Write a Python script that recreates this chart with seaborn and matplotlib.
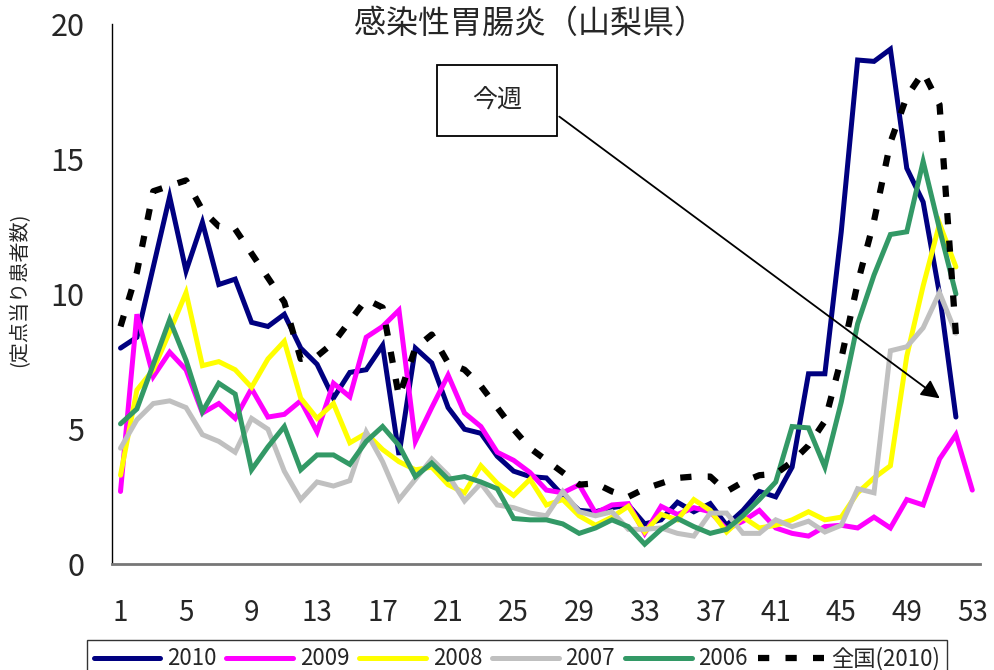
import numpy as np
import matplotlib
matplotlib.use("Agg")
import matplotlib.pyplot as plt
import matplotlib.patches as patches
import seaborn as sns

# Données (定点当り患者数, par semaine)
semaines = list(range(1, 54))
y2010 = [8.0, 8.4, 11.0, 13.6, 10.85, 12.65, 10.35, 10.55, 8.95, 8.8, 9.25, 8.0, 7.4,
         6.15, 7.1, 7.2, 8.1, 4.05, 8.0, 7.45, 5.8, 5.0, 4.85, 4.0, 3.45, 3.25,
         3.2, 2.55, 2.0, 1.95, 2.1, 2.2, 1.5, 1.65, 2.3, 1.95, 2.25, 1.45, 2.0,
         2.7, 2.5, 3.6, 7.05, 7.05, 12.3, 18.65, 18.6, 19.05, 14.65, 13.4, 10.0, 5.45]
y2009 = [2.7, 9.25, 6.95, 7.85, 7.2, 5.6, 5.95, 5.4, 6.5, 5.45, 5.55, 6.05, 4.9,
         6.7, 6.2, 8.4, 8.8, 9.4, 4.55, 5.8, 7.0, 5.6, 5.1, 4.15, 3.85, 3.4,
         2.75, 2.65, 2.95, 1.9, 2.2, 2.25, 1.15, 2.15, 1.85, 2.1, 1.95, 1.3, 1.6,
         2.0, 1.35, 1.15, 1.05, 1.4, 1.45, 1.35, 1.75, 1.35, 2.4, 2.2, 3.9, 4.8, 2.75]
y2008 = [3.3, 6.45, 7.2, 8.6, 10.05, 7.35, 7.5, 7.2, 6.55, 7.6, 8.25, 6.15, 5.4,
         5.95, 4.5, 4.85, 4.25, 3.8, 3.5, 3.6, 2.95, 2.65, 3.65, 3.0, 2.55, 3.15,
         2.2, 2.4, 1.8, 1.45, 1.75, 2.15, 1.2, 1.85, 1.65, 2.4, 2.0, 1.2, 1.75,
         1.35, 1.45, 1.65, 1.95, 1.65, 1.75, 2.65, 3.2, 3.65, 7.7, 10.3, 12.6, 11.0]
y2007 = [4.3, 5.35, 5.95, 6.05, 5.8, 4.8, 4.55, 4.15, 5.4, 5.0, 3.45, 2.4, 3.05,
         2.9, 3.1, 4.9, 3.8, 2.4, 3.15, 3.9, 3.3, 2.35, 3.0, 2.2, 2.1, 1.9,
         1.8, 2.7, 1.95, 1.8, 1.95, 1.3, 1.3, 1.35, 1.15, 1.05, 1.9, 1.9, 1.15,
         1.15, 1.65, 1.4, 1.6, 1.2, 1.45, 2.8, 2.65, 7.9, 8.05, 8.75, 10.05, 8.55]
y2006 = [5.2, 5.75, 7.4, 9.05, 7.55, 5.65, 6.7, 6.3, 3.5, 4.35, 5.1, 3.5, 4.05,
         4.05, 3.7, 4.55, 5.1, 4.4, 3.25, 3.75, 3.15, 3.25, 3.05, 2.8, 1.7, 1.65,
         1.65, 1.5, 1.15, 1.35, 1.65, 1.4, 0.75, 1.3, 1.7, 1.4, 1.15, 1.3, 1.8,
         2.4, 3.05, 5.1, 5.05, 3.6, 6.0, 8.9, 10.7, 12.2, 12.3, 14.9, 12.4, 10.0]
zenkoku = [8.8, 10.8, 13.8, 14.0, 14.2, 13.1, 12.5, 12.4, 11.5, 10.6, 9.7, 7.6, 7.7,
           8.2, 9.0, 9.8, 9.5, 6.2, 8.0, 8.5, 7.45, 7.2, 6.6, 5.8, 5.0, 4.3,
           3.85, 3.4, 2.95, 3.0, 2.7, 2.5, 2.8, 3.0, 3.2, 3.25, 3.25, 2.7, 3.05,
           3.3, 3.35, 3.8, 4.4, 5.3, 7.6, 10.4, 12.7, 15.6, 17.3, 18.2, 17.0, 8.5]

séries = [("2010", y2010, "#000080"), ("2009", y2009, "#FF00FF"), ("2008", y2008, "#FFFF00"),
          ("2007", y2007, "#C0C0C0"), ("2006", y2006, "#339966")]

sns.set_style("white")
plt.rcParams['font.family'] = ['Noto Sans CJK JP', 'DejaVu Sans']

fig = plt.figure(figsize=(9.94, 6.70), dpi=100)
ax = fig.add_axes([0.113, 0.1575, 0.8734, 0.8074])

for nom, valeurs, couleur in séries:
    sns.lineplot(x=semaines[:len(valeurs)], y=valeurs, color=couleur, lw=3.6,
                 label=nom, ax=ax, solid_joinstyle="miter")
sns.lineplot(x=semaines[:len(zenkoku)], y=zenkoku, color="black", lw=4.5,
             label="全国(2010)", ax=ax, dashes=False)
ax.lines[-1].set_dashes((1.8, 2.6))

ax.set_xlim(0.5, 53.5)
ax.set_ylim(0, 20)
ax.set_xticks([1, 5, 9, 13, 17, 21, 25, 29, 33, 37, 41, 45, 49, 53])
ax.set_xticks(np.arange(0.5, 54, 1), minor=True)
ax.set_yticks([0, 5, 10, 15, 20])
ax.tick_params(axis="x", which="major", length=0, pad=24, labelsize=20)
ax.tick_params(axis="x", which="minor", length=7, width=1, direction="in", color="black")
ax.tick_params(axis="y", which="major", length=8.5, width=1, direction="in",
               color="#555555", pad=20, labelsize=22)
for s in ["top", "right"]:
    ax.spines[s].set_visible(False)
ax.spines["left"].set_color("black")
ax.spines["left"].set_linewidth(1)
ax.spines["bottom"].set_color("#777777")
ax.spines["bottom"].set_linewidth(2)
ax.set_xlabel("")
ax.set_ylabel("")

fig.text(0.533, 0.964, "感染性胃腸炎（山梨県）", ha="center", va="center", fontsize=23)
fig.text(0.02, 0.567, "(定点当り患者数)", rotation=90, ha="center", va="center", fontsize=14.5)

# Boîte "今週" et flèche
ax.add_patch(patches.Rectangle((20.32, 15.84), 7.33, 2.63, facecolor="white",
                               edgecolor="black", lw=1.3, clip_on=False, zorder=5))
ax.text(23.99, 17.15, "今週", ha="center", va="center", fontsize=18, zorder=6)
ax.annotate("", xy=(51.15, 6.08), xytext=(27.65, 16.62),
            arrowprops=dict(arrowstyle="-|>", color="black", lw=1.3, mutation_scale=28))

ax.legend(loc="upper left", bbox_to_anchor=(0.0875, 0.0448), bbox_transform=fig.transFigure,
          ncol=6, fontsize=16, frameon=True, fancybox=False, edgecolor="black",
          handlelength=3.0, handletextpad=0.3, columnspacing=0.45, borderpad=0.3,
          borderaxespad=0)
ax.get_legend().get_frame().set_linewidth(1)

plt.savefig("out.png", dpi=100)
